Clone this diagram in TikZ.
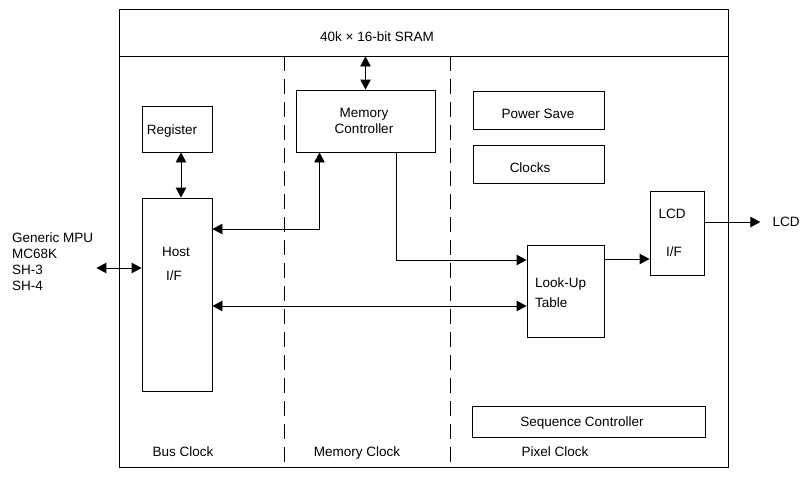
\documentclass[tikz,border=0pt]{standalone}
\usepackage{fontspec}
\setmainfont{Liberation Sans}
\usetikzlibrary{arrows.meta}

\begin{document}
\begin{tikzpicture}[x=1pt,y=-1pt,
    every node/.style={font=\fontsize{13.5}{16}\selectfont,inner sep=0pt,text height=9.7pt,text depth=0pt},
    multi/.style={text height=,text depth=},
    blk/.style={draw,line width=.9pt},
    frame/.style={line width=.9pt},
    clk/.style={line width=.9pt,dash pattern=on 15pt off 8pt},
    conn/.style={line width=.9pt,-{Triangle[length=10pt,width=10.5pt]}},
    both/.style={line width=.9pt,{Triangle[length=10pt,width=10.5pt]}-{Triangle[length=10pt,width=10.5pt]}}]
    \useasboundingbox (0,0) rectangle (807,477);
    % chip outline and the three clock domains
    \draw[frame] (119,9) rectangle (728,467);
    \node[blk,minimum width=609pt,minimum height=47pt] (sram) at (423.5,32.5) {};
    \node at (377,37) {40k × 16-bit SRAM};
    \draw[clk] (284,56) -- (284,467);
    \draw[clk] (450,56) -- (450,467);
    \node at (183,452) {Bus Clock};
    \node at (357,452) {Memory Clock};
    \node at (555,452) {Pixel Clock};
    % blocks
    \node[blk,minimum width=70pt,minimum height=46pt] (reg) at (177,129) {};
    \node at (172,130) {Register};
    \node[blk,minimum width=70pt,minimum height=193pt] (host) at (177,294.5) {};
    \node at (176,252) {Host};
    \node at (174,276) {I/F};
    \node[blk,minimum width=139pt,minimum height=62pt] (mc) at (365.5,121) {};
    \node at (364,113) {Memory};
    \node at (364,129) {Controller};
    \node[blk,minimum width=131pt,minimum height=38pt] (psave) at (538.5,110) {};
    \node at (538,114) {Power Save};
    \node[blk,minimum width=131pt,minimum height=38pt] (clks) at (538.5,164) {};
    \node at (530,168) {Clocks};
    \node[blk,minimum width=77pt,minimum height=92pt] (lut) at (565.5,291) {};
    \node[anchor=west] at (535,283) {Look-Up};
    \node[anchor=west] at (535,303) {Table};
    \node[blk,minimum width=54pt,minimum height=84pt] (lcdif) at (677,233) {};
    \node at (672,214) {LCD};
    \node at (674,252) {I/F};
    \node[blk,minimum width=233pt,minimum height=31pt] (seq) at (588.5,421.5) {};
    \node at (582,422) {Sequence Controller};
    % outside world
    \node[multi,align=left,anchor=west] (mpu) at (12,261.5) {Generic MPU\\MC68K\\SH-3\\SH-4};
    \node (lcd) at (786,222) {LCD};
    % connections
    \draw[both] ([xshift=3pt]mpu.east |- 0,268) -- (host.west |- 0,268);
    \draw[both] ([xshift=4pt]reg.south) -- ([xshift=4pt]host.north);
    \draw[both] (mc.north) -- (mc.north |- sram.south);
    \draw[both] ([xshift=-46pt]mc.south) |- (host.east |- 0,229);
    \draw[conn] ([xshift=30.5pt]mc.south) |- (lut.west |- 0,260);
    \draw[both] (host.east |- 0,306) -- (lut.west |- 0,306);
    \draw[conn] (lut.east |- 0,259) -- (lcdif.west |- 0,259);
    \draw[conn,shorten >=12pt] (lcdif.east |- lcd) -- (lcd.west);
\end{tikzpicture}
\end{document}
